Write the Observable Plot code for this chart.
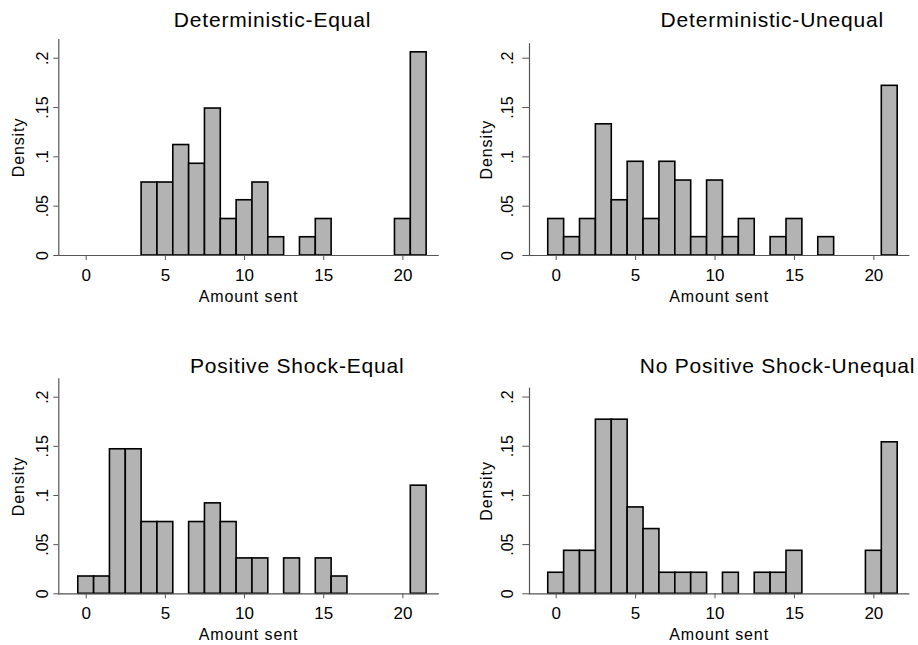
<!DOCTYPE html>
<html>
<head>
<meta charset="utf-8">
<script src="https://cdn.jsdelivr.net/npm/d3@7"></script>
<script src="https://cdn.jsdelivr.net/npm/@observablehq/plot@0.6"></script>
<style>
  body { margin: 0; background: #fff; }
  #wrap { position: relative; width: 918px; height: 645px; overflow: hidden; background: #fff;
          font-family: "Liberation Sans", Arial, Helvetica, sans-serif; }
  .panel { position: absolute; }
  .panel svg { overflow: visible; }
  g[aria-label="x-axis label"] text, g[aria-label="y-axis label"] text { letter-spacing: 0.9px; }
  .ttl { font-size: 21px; letter-spacing: 0.8px; fill: #000; }
</style>
</head>
<body>
<div id="wrap"></div>
<script>
// ---- data (bin centres = amount sent, bin width 1) ----
const amounts = [0,1,2,3,4,5,6,7,8,9,10,11,12,13,14,15,16,17,18,19,20,21];
const densDetEqual       = [0,0,0,0,0.074,0.074,0.112,0.093,0.149,0.037,0.056,0.074,0.0185,0,0.0185,0.037,0,0,0,0,0.037,0.206];
const densDetUnequal     = [0.037,0.0186,0.037,0.133,0.056,0.095,0.037,0.095,0.076,0.0186,0.076,0.0186,0.037,0,0.0186,0.037,0,0.0186,0,0,0,0.172];
const densPosShockEqual  = [0.0176,0.0176,0.147,0.147,0.073,0.073,0,0.073,0.092,0.073,0.036,0.036,0,0.036,0,0.036,0.0176,0,0,0,0,0.110];
const densNoPosShockUneq = [0.0214,0.0437,0.0437,0.177,0.177,0.0878,0.0658,0.0214,0.0214,0.0214,0,0.0214,0,0.0214,0.0214,0.0437,0,0,0,0,0.0437,0.154];
const panelTitles = ["Deterministic-Equal", "Deterministic-Unequal", "Positive Shock-Equal", "No Positive Shock-Unequal"];
const xTicks = [0, 5, 10, 15, 20];
const yTicks = [0, 0.05, 0.1, 0.15, 0.2];
const xLabel = "Amount sent";
const yLabel = "Density";

const fmtY = d => d === 0 ? "0" : String(+d.toFixed(2)).replace(/^0/, "");

// ---- layout ----
const panels = [
  {dens: densDetEqual, title: panelTitles[0], left: 0, top: 0, w: 459, h: 320,
   mL: 58.3, mR: 21.3, mT: 39, mB: 65, xDom: [-1.73, 22.23], yTop: 0.219,
   yTickSize: 5, yTickPad: 5.6, yLabOff: 46.5, xLabOff: 46.7, tx: 272.5, ty: 26.7},
  {dens: densDetUnequal, title: panelTitles[1], left: 459, top: 0, w: 459, h: 320,
   mL: 70, mR: 9.7, mT: 43.3, mB: 65, xDom: [-1.68, 22.2], yTop: 0.2146,
   yTickSize: 6.7, yTickPad: 10, yLabOff: 49.3, xLabOff: 46.7, tx: 772.3, ty: 26.7},
  {dens: densPosShockEqual, title: panelTitles[2], left: 0, top: 330, w: 459, h: 315,
   mL: 58.3, mR: 21.3, mT: 48.3, mB: 51.7, xDom: [-1.73, 22.23], yTop: 0.2187,
   yTickSize: 5, yTickPad: 5.6, yLabOff: 46.5, xLabOff: 46.2, tx: 297.2, ty: 372.7},
  {dens: densNoPosShockUneq, title: panelTitles[3], left: 459, top: 330, w: 459, h: 315,
   mL: 70, mR: 9.7, mT: 57.7, mB: 51.7, xDom: [-1.68, 22.2], yTop: 0.209,
   yTickSize: 6.7, yTickPad: 10, yLabOff: 49.3, xLabOff: 46.2, tx: 777.5, ty: 372.7}
];

const wrap = document.getElementById("wrap");
const axisGray = "#555";

for (const p of panels) {
  const data = amounts.map((a, i) => ({a, d: p.dens[i]})).filter(r => r.d > 0);
  const chart = Plot.plot({
    width: p.w, height: p.h,
    marginLeft: p.mL, marginRight: p.mR, marginTop: p.mT, marginBottom: p.mB,
    style: {fontFamily: '"Liberation Sans", Arial, Helvetica, sans-serif', background: "transparent", color: "#000"},
    x: {domain: p.xDom},
    y: {domain: [0, p.yTop]},
    marks: [
      Plot.rectY(data, {x1: r => r.a - 0.5, x2: r => r.a + 0.5, y1: 0, y2: "d",
        fill: "#b3b3b3", stroke: "#000", strokeWidth: 1.6}),
      Plot.frame({anchor: "left", stroke: axisGray, strokeWidth: 1.2}),
      Plot.frame({anchor: "bottom", stroke: axisGray, strokeWidth: 1.2}),
      // tick marks + tick labels
      Plot.axisX({ticks: xTicks, tickSize: 5, tickPadding: 8, stroke: axisGray, fill: "#000",
        fontSize: 17, label: null}),
      Plot.axisY({ticks: yTicks, tickFormat: fmtY, tickRotate: -90, tickSize: p.yTickSize,
        tickPadding: p.yTickPad, stroke: axisGray, fill: "#000", fontSize: 16, label: null}),
      // axis titles
      Plot.axisX({ticks: [], tickSize: 0, fill: "#000", fontSize: 16,
        label: xLabel, labelAnchor: "center", labelArrow: "none", labelOffset: p.xLabOff}),
      Plot.axisY({ticks: [], tickSize: 0, fill: "#000", fontSize: 16,
        label: yLabel, labelAnchor: "center", labelArrow: "none", labelOffset: p.yLabOff})
    ]
  });
  const div = document.createElement("div");
  div.className = "panel";
  div.style.left = p.left + "px";
  div.style.top = p.top + "px";
  div.appendChild(chart);
  wrap.appendChild(div);
}

// titles overlay
const ov = d3.select(wrap).append("svg")
  .attr("width", 918).attr("height", 645)
  .style("position", "absolute").style("left", "0px").style("top", "0px")
  .style("pointer-events", "none")
  .style("font-family", '"Liberation Sans", Arial, Helvetica, sans-serif');
ov.selectAll("text").data(panels).join("text")
  .attr("class", "ttl")
  .attr("x", p => p.tx).attr("y", p => p.ty)
  .attr("text-anchor", "middle")
  .text(p => p.title);
</script>
</body>
</html>
